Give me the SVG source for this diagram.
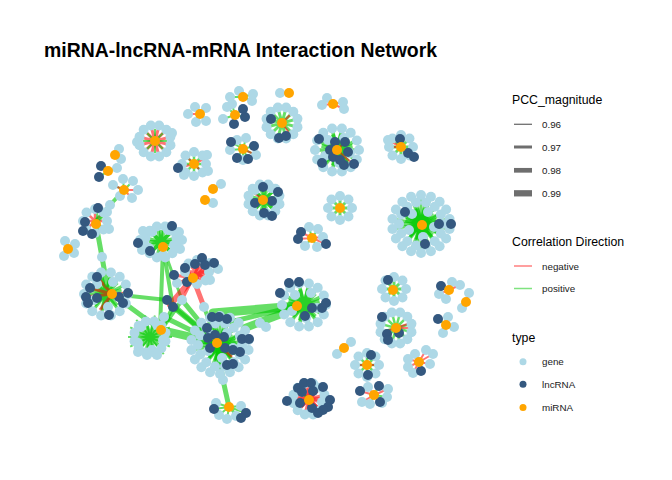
<svg xmlns="http://www.w3.org/2000/svg" width="672" height="480" viewBox="0 0 672 480">
<style>
.g{fill:#ADD8E6}.l{fill:#34587F}.m{fill:#FFA500}
.p{stroke:#00C800;stroke-opacity:.6;fill:none;stroke-width:2}
.n{stroke:#FF0000;stroke-opacity:.55;fill:none;stroke-width:2}
.t{font-family:"Liberation Sans",Arial,sans-serif;fill:#000}
.lt{font-size:12.3px}.lb{font-size:9.8px;fill:#1a1a1a}
</style>
<defs>
<g id="R1"><circle cx="12" cy="0" r="5"/><circle cx="8.49" cy="8.49" r="5"/><circle cx="0" cy="12" r="5"/><circle cx="-8.49" cy="8.49" r="5"/><circle cx="-12" cy="0" r="5"/><circle cx="-8.49" cy="-8.49" r="5"/><circle cx="0" cy="-12" r="5"/><circle cx="8.49" cy="-8.49" r="5"/></g>
<g id="R0"><circle cx="13" cy="3" r="5"/><circle cx="2" cy="13" r="5"/><circle cx="-12" cy="6" r="5"/><circle cx="-9" cy="-10" r="5"/><circle cx="7" cy="-12" r="5"/></g>
<g id="R2"><circle cx="15.45" cy="4.14" r="5"/><circle cx="11.31" cy="11.31" r="5"/><circle cx="4.14" cy="15.45" r="5"/><circle cx="-4.14" cy="15.45" r="5"/><circle cx="-11.31" cy="11.31" r="5"/><circle cx="-15.45" cy="4.14" r="5"/><circle cx="-15.45" cy="-4.14" r="5"/><circle cx="-11.31" cy="-11.31" r="5"/><circle cx="-4.14" cy="-15.45" r="5"/><circle cx="4.14" cy="-15.45" r="5"/><circle cx="11.31" cy="-11.31" r="5"/><circle cx="15.45" cy="-4.14" r="5"/></g>
<g id="R3"><circle cx="22" cy="0" r="5"/><circle cx="19.82" cy="9.55" r="5"/><circle cx="13.72" cy="17.2" r="5"/><circle cx="4.9" cy="21.45" r="5"/><circle cx="-4.9" cy="21.45" r="5"/><circle cx="-13.72" cy="17.2" r="5"/><circle cx="-19.82" cy="9.55" r="5"/><circle cx="-22" cy="0" r="5"/><circle cx="-19.82" cy="-9.55" r="5"/><circle cx="-13.72" cy="-17.2" r="5"/><circle cx="-4.9" cy="-21.45" r="5"/><circle cx="4.9" cy="-21.45" r="5"/><circle cx="13.72" cy="-17.2" r="5"/><circle cx="19.82" cy="-9.55" r="5"/></g>
<g id="R4"><circle cx="28.56" cy="5.03" r="5"/><circle cx="25.11" cy="14.5" r="5"/><circle cx="18.64" cy="22.21" r="5"/><circle cx="9.92" cy="27.25" r="5"/><circle cx="0" cy="29" r="5"/><circle cx="-9.92" cy="27.25" r="5"/><circle cx="-18.64" cy="22.21" r="5"/><circle cx="-25.11" cy="14.5" r="5"/><circle cx="-28.56" cy="5.03" r="5"/><circle cx="-28.56" cy="-5.03" r="5"/><circle cx="-25.11" cy="-14.5" r="5"/><circle cx="-18.64" cy="-22.21" r="5"/><circle cx="-9.92" cy="-27.25" r="5"/><circle cx="0" cy="-29" r="5"/><circle cx="9.92" cy="-27.25" r="5"/><circle cx="18.64" cy="-22.21" r="5"/><circle cx="25.11" cy="-14.5" r="5"/><circle cx="28.56" cy="-5.03" r="5"/></g>
<path id="E1" d="M0 0L12 0M0 0L8.49 8.49M0 0L0 12M0 0L-8.49 8.49M0 0L-12 0M0 0L-8.49 -8.49M0 0L0 -12M0 0L8.49 -8.49"/>
<path id="E2" d="M0 0L15.45 4.14M0 0L11.31 11.31M0 0L4.14 15.45M0 0L-4.14 15.45M0 0L-11.31 11.31M0 0L-15.45 4.14M0 0L-15.45 -4.14M0 0L-11.31 -11.31M0 0L-4.14 -15.45M0 0L4.14 -15.45M0 0L11.31 -11.31M0 0L15.45 -4.14"/>
<path id="E3" d="M0 0L22 0M0 0L19.82 9.55M0 0L13.72 17.2M0 0L4.9 21.45M0 0L-4.9 21.45M0 0L-13.72 17.2M0 0L-19.82 9.55M0 0L-22 0M0 0L-19.82 -9.55M0 0L-13.72 -17.2M0 0L-4.9 -21.45M0 0L4.9 -21.45M0 0L13.72 -17.2M0 0L19.82 -9.55"/>
<path id="E4" d="M0 0L28.56 5.03M0 0L25.11 14.5M0 0L18.64 22.21M0 0L9.92 27.25M0 0L0 29M0 0L-9.92 27.25M0 0L-18.64 22.21M0 0L-25.11 14.5M0 0L-28.56 5.03M0 0L-28.56 -5.03M0 0L-25.11 -14.5M0 0L-18.64 -22.21M0 0L-9.92 -27.25M0 0L0 -29M0 0L9.92 -27.25M0 0L18.64 -22.21M0 0L25.11 -14.5M0 0L28.56 -5.03"/>
</defs>
<rect width="672" height="480" fill="#fff"/>
<text class="t" x="44" y="56.5" font-size="19.5" font-weight="bold" textLength="393" lengthAdjust="spacingAndGlyphs">miRNA-lncRNA-mRNA Interaction Network</text>

<g id="connectors">
<path class="n" d="M289 93L280 93M333 104L327 98M333 104L343 102M333 104L344 109M333 104L322 105M200 114L188 114M200 114L206 121"/>
<path class="p" d="M243 97L230 97M243 97L239 91M243 97L253 94M243 97L252 101M200 114L195 107M200 114L206 108M200 114L196 122M235 115L227 107M235 115L223 119M235 115L232 104M235 115L243 109M235 115L245 117M235 115L234 124"/>
<use href="#E2" class="p" x="282" y="123" style="stroke-width:3"/>
<path class="n" d="M282 123L293 112M282 123L290 134"/>
<use href="#E2" class="n" x="155" y="141" style="stroke-width:3"/>
<use href="#E1" class="p" x="155" y="141"/>
<use href="#E2" class="p" x="337" y="150" style="stroke-width:4"/>
<use href="#E3" class="p" x="337" y="150" style="stroke-width:3.5"/>
<path class="n" d="M337 150L353 164M337 150L344 143"/>
<use href="#E1" class="p" x="401" y="147" style="stroke-width:3"/>
<path class="n" d="M401 147L388 140M401 147L388 147"/>
<use href="#E1" class="p" x="194" y="164" style="stroke-width:2.5"/>
<path class="n" d="M194 164L178 168M194 164L206 158M194 164L185 155M194 164L203 173"/>
<path class="p" d="M243 149L237 140M243 149L246 138M243 149L256 155M243 149L230 150M243 149L243 160M243 149L231 142M243 149L254 146M243 149L237 158M243 149L248 159"/>
<path class="n" d="M243 149L256 155"/>
<path class="p" d="M124 190L113 185M124 190L123 179M124 190L133 181M124 190L120 196"/>
<path class="n" d="M124 190L138 190M124 190L132 198M124 190L113 185"/>
<path class="p" d="M108 171L101 166M108 171L99 177M108 171L117 168M115 155L119 149M115 155L121 159M213 189L221 184M205 200L213 203"/>
<use href="#E1" class="p" x="264" y="200" style="stroke-width:3.5"/>
<use href="#E2" class="p" x="264" y="200" style="stroke-width:3"/>
<path class="n" d="M264 200L252 192M264 200L248 204"/>
<use href="#E1" class="p" x="340" y="208" style="stroke-width:3"/>
<use href="#E1" class="n" x="95" y="221" style="stroke-width:2.5"/>
<path class="p" d="M96 224L107 212M96 224L109 229M96 224L98 208"/>
<use href="#E2" class="p" x="421" y="224" style="stroke-width:4.5"/>
<use href="#E3" class="p" x="421" y="224" style="stroke-width:4"/>
<use href="#E4" class="p" x="421" y="224" style="stroke-width:3"/>
<path class="n" d="M312 238L301 232M312 238L298 239M312 238L326 244M312 238L323 237"/>
<path class="p" d="M312 238L309 227M312 238L318 229M312 238L317 247M312 238L305 246"/>
<path class="n" d="M68 249L65 241M68 249L75 244M68 249L64 256M68 249L74 253"/>
<use href="#E1" class="p" x="161" y="242" style="stroke-width:4"/>
<use href="#E2" class="p" x="161" y="242" style="stroke-width:3.5"/>
<use href="#E1" class="n" x="197" y="272" style="stroke-width:3.5"/>
<path class="n" style="stroke-width:3" d="M193 278L202 258M193 278L185 268M193 278L214 263M193 278L174 275M193 278L218 269M193 278L210 280M193 278L177 283M193 278L210 263"/>
<use href="#E2" class="p" x="106" y="294" style="stroke-width:3.5"/>
<use href="#E3" class="p" x="106" y="294" style="stroke-width:3"/>
<path class="n" style="stroke-width:3" d="M112 294L97 277M112 294L90 288M112 294L86 297M112 294L128 293M112 294L123 303M112 294L100 310"/>
<use href="#E2" class="p" x="304" y="305" style="stroke-width:4"/>
<use href="#E3" class="p" x="304" y="305" style="stroke-width:3.5"/>
<use href="#E2" class="p" x="150" y="337" style="stroke-width:4"/>
<use href="#E3" class="p" x="150" y="337" style="stroke-width:2"/>
<use href="#E2" class="p" x="220" y="345" style="stroke-width:4.5"/>
<use href="#E3" class="p" x="220" y="345" style="stroke-width:4"/>
<use href="#E4" class="p" x="220" y="345" style="stroke-width:3"/>
<path class="n" style="stroke-width:2.5" d="M217 343L207 328M217 343L233 350M217 343L210 348M217 343L232 357"/>
<path class="p" d="M229 407L216 403M229 407L219 415M229 407L227 419M229 407L236 416M229 407L241 406M229 407L214 409M229 407L246 413M229 407L241 418"/>
<use href="#E1" class="n" x="309" y="399" style="stroke-width:3.5"/>
<use href="#E2" class="n" x="309" y="399" style="stroke-width:3"/>
<path class="p" d="M309 400L287 401M309 400L318 413M309 400L302 392"/>
<use href="#E1" class="p" x="394" y="289" style="stroke-width:3"/>
<path class="n" d="M449 290L452 282M449 290L460 285M449 290L439 294M449 290L446 299M449 290L441 286M466 302L469 293M466 302L462 308"/>
<path class="p" d="M466 302L462 308"/>
<use href="#E2" class="p" x="396" y="328" style="stroke-width:2.5"/>
<path class="n" d="M396 328L412 328M396 328L380 333M396 328L413 322"/>
<path class="p" d="M446 325L448 317M446 325L454 327M446 325L443 333M446 325L438 319M344 348L351 342M344 348L337 354"/>
<use href="#E1" class="p" x="367" y="365" style="stroke-width:2.5"/>
<path class="n" d="M367 365L379 365M367 365L355 365"/>
<path class="n" d="M419 362L408 359M419 362L415 354M419 362L426 350M419 362L433 354M419 362L430 364M419 362L413 373M419 362L408 367M419 362L421 371"/>
<path class="n" d="M374 395L368 387M374 395L388 389M374 395L360 391M374 395L362 402M374 395L380 402"/>
<path class="p" d="M374 395L387 397M374 395L382 403M374 395L370 404M374 395L379 386"/>
<g style="stroke:#00C800;stroke-opacity:.6;fill:none;stroke-linecap:round">
<path stroke-width="4" d="M124 190L110 205L96 221"/>
<path stroke-width="5" d="M96 224L102 257L107 285"/>
<path stroke-width="4" d="M112 294L167 300"/>
<path stroke-width="5" d="M112 294L161 330"/>
<path stroke-width="4" d="M163 247L160 330"/>
<path stroke-width="4" d="M163 247L173 307"/>
<path stroke-width="3" d="M163 247L182 300"/>
<path stroke-width="5" d="M167 300L217 343"/>
<path stroke-width="5" d="M173 307L217 343"/>
<path stroke-width="5" d="M182 300L217 343"/>
<path stroke-width="4" d="M161 330L182 300"/>
<path stroke-width="4" d="M161 330L173 307"/>
<path stroke-width="8" d="M161 330L217 343"/>
<path stroke-width="5" d="M164 317L217 343"/>
<path stroke-width="9" d="M213 313L297 306"/>
<path stroke-width="8" d="M245 328L297 308"/>
<path stroke-width="5" d="M230 322L297 306"/>
<path stroke-width="5" d="M217 343L223 380L229 407"/>
<path stroke-width="4" d="M204 307L217 343"/>
</g>
<g style="stroke:#FF0000;stroke-opacity:.55;fill:none;stroke-linecap:round">
<path stroke-width="6" d="M193 278L170 305"/>
<path stroke-width="5" d="M193 278L204 307"/>
<path stroke-width="3" d="M193 278L182 300"/>
</g>
</g>

<g id="nodes">
<g id="c01"><circle class="g" cx="280" cy="93" r="5"/><circle class="m" cx="289" cy="93" r="5"/></g>
<g id="c02"><circle class="g" cx="230" cy="97" r="5"/><circle class="g" cx="239" cy="91" r="5"/><circle class="g" cx="253" cy="94" r="5"/><circle class="g" cx="252" cy="101" r="5"/><circle class="m" cx="243" cy="97" r="5"/></g>
<g id="c03"><circle class="g" cx="327" cy="98" r="5"/><circle class="g" cx="343" cy="102" r="5"/><circle class="g" cx="344" cy="109" r="5"/><circle class="g" cx="322" cy="105" r="5"/><circle class="m" cx="333" cy="104" r="5"/></g>
<g id="c04"><circle class="g" cx="188" cy="114" r="5"/><circle class="g" cx="195" cy="107" r="5"/><circle class="g" cx="206" cy="108" r="5"/><circle class="g" cx="206" cy="121" r="5"/><circle class="g" cx="196" cy="122" r="5"/><circle class="m" cx="200" cy="114" r="5"/></g>
<g id="c05"><circle class="g" cx="227" cy="107" r="5"/><circle class="g" cx="223" cy="119" r="5"/><circle class="g" cx="232" cy="104" r="5"/><circle class="l" cx="243" cy="109" r="5"/><circle class="l" cx="245" cy="117" r="5"/><circle class="l" cx="234" cy="124" r="5"/><circle class="m" cx="235" cy="115" r="5"/></g>
<g id="c06"><use href="#R2" class="g" x="282" y="123"/><circle class="l" cx="271" cy="119" r="5"/><circle class="l" cx="279" cy="138" r="5"/><circle class="l" cx="286" cy="136" r="5"/><circle class="m" cx="282" cy="123" r="5"/></g>
<g id="c07"><use href="#R2" class="g" x="155" y="141"/><circle class="g" cx="137" cy="142" r="5"/><circle class="g" cx="172" cy="133" r="5"/><circle class="m" cx="155" cy="141" r="5"/></g>
<g id="c08"><use href="#R3" class="g" x="337" y="150"/><use href="#R0" class="g" x="337" y="150"/><circle class="l" cx="319" cy="139" r="5"/><circle class="l" cx="322" cy="163" r="5"/><circle class="l" cx="335" cy="142" r="5"/><circle class="l" cx="345" cy="142" r="5"/><circle class="l" cx="330" cy="150" r="5"/><circle class="l" cx="348" cy="152" r="5"/><circle class="l" cx="344" cy="165" r="5"/><circle class="l" cx="354" cy="164" r="5"/><circle class="l" cx="333" cy="157" r="5"/><circle class="l" cx="340" cy="160" r="5"/><circle class="m" cx="337" cy="150" r="5"/></g>
<g id="c09"><use href="#R1" class="g" x="401" y="147"/><circle class="g" cx="388" cy="140" r="5"/><circle class="l" cx="400" cy="139" r="5"/><circle class="l" cx="408" cy="153" r="5"/><circle class="l" cx="414" cy="157" r="5"/><circle class="m" cx="401" cy="147" r="5"/></g>
<g id="c10"><use href="#R1" class="g" x="194" y="164"/><circle class="g" cx="207" cy="155" r="5"/><circle class="g" cx="208" cy="171" r="5"/><circle class="g" cx="184" cy="175" r="5"/><circle class="l" cx="178" cy="168" r="5"/><circle class="m" cx="194" cy="164" r="5"/></g>
<g id="c11"><circle class="g" cx="237" cy="140" r="5"/><circle class="g" cx="246" cy="138" r="5"/><circle class="g" cx="256" cy="155" r="5"/><circle class="g" cx="230" cy="150" r="5"/><circle class="g" cx="243" cy="160" r="5"/><circle class="l" cx="231" cy="142" r="5"/><circle class="l" cx="254" cy="146" r="5"/><circle class="l" cx="237" cy="158" r="5"/><circle class="l" cx="248" cy="159" r="5"/><circle class="m" cx="243" cy="149" r="5"/></g>
<g id="c12"><circle class="g" cx="119" cy="149" r="5"/><circle class="g" cx="121" cy="159" r="5"/><circle class="m" cx="115" cy="155" r="5"/></g>
<g id="c13"><circle class="l" cx="101" cy="166" r="5"/><circle class="l" cx="99" cy="177" r="5"/><circle class="g" cx="117" cy="168" r="5"/><circle class="m" cx="108" cy="171" r="5"/></g>
<g id="c14"><circle class="g" cx="221" cy="184" r="5"/><circle class="m" cx="213" cy="189" r="5"/><circle class="g" cx="213" cy="203" r="5"/><circle class="m" cx="205" cy="200" r="5"/></g>
<g id="c15"><circle class="g" cx="113" cy="185" r="5"/><circle class="g" cx="123" cy="179" r="5"/><circle class="g" cx="133" cy="181" r="5"/><circle class="g" cx="138" cy="190" r="5"/><circle class="g" cx="132" cy="198" r="5"/><circle class="g" cx="120" cy="196" r="5"/><circle class="m" cx="124" cy="190" r="5"/></g>
<g id="c16"><use href="#R2" class="g" x="264" y="200"/><use href="#R0" class="g" x="264" y="200"/><circle class="l" cx="263" cy="187" r="5"/><circle class="l" cx="278" cy="192" r="5"/><circle class="l" cx="255" cy="203" r="5"/><circle class="l" cx="272" cy="201" r="5"/><circle class="l" cx="264" cy="213" r="5"/><circle class="l" cx="272" cy="216" r="5"/><circle class="m" cx="263" cy="200" r="5"/></g>
<g id="c17"><use href="#R1" class="g" x="340" y="208"/><circle class="m" cx="340" cy="208" r="5"/></g>
<g id="c18"><use href="#R1" class="g" x="95" y="221"/><circle class="g" cx="107" cy="212" r="5"/><circle class="g" cx="109" cy="229" r="5"/><circle class="l" cx="98" cy="208" r="5"/><circle class="l" cx="85" cy="222" r="5"/><circle class="l" cx="83" cy="231" r="5"/><circle class="l" cx="92" cy="234" r="5"/><circle class="m" cx="96" cy="224" r="5"/></g>
<g id="c19"><use href="#R4" class="g" x="421" y="224"/><use href="#R3" class="g" x="421" y="224"/><use href="#R0" class="g" x="421" y="224"/><circle class="l" cx="405" cy="212" r="5"/><circle class="l" cx="439" cy="224" r="5"/><circle class="l" cx="451" cy="224" r="5"/><circle class="l" cx="425" cy="244" r="5"/><circle class="m" cx="422" cy="225" r="5"/></g>
<g id="c20"><circle class="g" cx="309" cy="227" r="5"/><circle class="g" cx="318" cy="229" r="5"/><circle class="g" cx="323" cy="237" r="5"/><circle class="g" cx="317" cy="247" r="5"/><circle class="g" cx="305" cy="246" r="5"/><circle class="l" cx="301" cy="232" r="5"/><circle class="l" cx="298" cy="239" r="5"/><circle class="l" cx="326" cy="244" r="5"/><circle class="m" cx="312" cy="238" r="5"/></g>
<g id="c21"><circle class="g" cx="65" cy="241" r="5"/><circle class="g" cx="75" cy="244" r="5"/><circle class="g" cx="64" cy="256" r="5"/><circle class="g" cx="74" cy="253" r="5"/><circle class="m" cx="68" cy="249" r="5"/></g>
<g id="c22"><use href="#R2" class="g" x="161" y="242"/><use href="#R0" class="g" x="161" y="242"/><circle class="g" cx="140" cy="240" r="5"/><circle class="g" cx="182" cy="240" r="5"/><circle class="g" cx="142" cy="250" r="5"/><circle class="g" cx="180" cy="249" r="5"/><circle class="g" cx="143" cy="231" r="5"/><circle class="g" cx="179" cy="232" r="5"/><circle class="l" cx="172" cy="226" r="5"/><circle class="l" cx="138" cy="243" r="5"/><circle class="l" cx="150" cy="251" r="5"/><circle class="m" cx="163" cy="247" r="5"/></g>
<g id="c23"><use href="#R1" class="g" x="197" y="272"/><circle class="g" cx="210" cy="280" r="5"/><circle class="g" cx="218" cy="269" r="5"/><circle class="g" cx="210" cy="263" r="5"/><circle class="g" cx="177" cy="283" r="5"/><circle class="l" cx="202" cy="258" r="5"/><circle class="l" cx="195" cy="264" r="5"/><circle class="l" cx="185" cy="268" r="5"/><circle class="l" cx="214" cy="263" r="5"/><circle class="l" cx="174" cy="275" r="5"/><circle class="l" cx="187" cy="282" r="5"/><circle class="l" cx="205" cy="265" r="5"/><circle class="m" cx="193" cy="278" r="5"/></g>
<g id="c24"><use href="#R3" class="g" x="106" y="294"/><use href="#R0" class="g" x="106" y="294"/><circle class="l" cx="97" cy="277" r="5"/><circle class="l" cx="90" cy="288" r="5"/><circle class="l" cx="86" cy="297" r="5"/><circle class="l" cx="88" cy="303" r="5"/><circle class="l" cx="97" cy="298" r="5"/><circle class="l" cx="119" cy="297" r="5"/><circle class="l" cx="123" cy="303" r="5"/><circle class="l" cx="128" cy="293" r="5"/><circle class="l" cx="109" cy="315" r="5"/><circle class="m" cx="112" cy="294" r="5"/></g>
<g id="c25"><use href="#R3" class="g" x="304" y="305"/><use href="#R0" class="g" x="304" y="305"/><circle class="l" cx="289" cy="283" r="5"/><circle class="l" cx="299" cy="282" r="5"/><circle class="l" cx="280" cy="293" r="5"/><circle class="l" cx="312" cy="308" r="5"/><circle class="l" cx="305" cy="316" r="5"/><circle class="l" cx="322" cy="308" r="5"/><circle class="l" cx="326" cy="303" r="5"/><circle class="m" cx="297" cy="306" r="5"/></g>
<g id="c26"><use href="#R2" class="g" x="150" y="337"/><use href="#R0" class="g" x="150" y="337"/><circle class="g" cx="147" cy="355" r="5"/><circle class="g" cx="157" cy="355" r="5"/><circle class="g" cx="138" cy="352" r="5"/><circle class="m" cx="161" cy="330" r="5"/></g>
<g id="c27"><use href="#R4" class="g" x="220" y="345"/><use href="#R3" class="g" x="220" y="345"/><use href="#R0" class="g" x="220" y="345"/><circle class="l" cx="212" cy="317" r="5"/><circle class="l" cx="219" cy="317" r="5"/><circle class="l" cx="227" cy="319" r="5"/><circle class="l" cx="207" cy="328" r="5"/><circle class="l" cx="215" cy="335" r="5"/><circle class="l" cx="224" cy="337" r="5"/><circle class="l" cx="208" cy="338" r="5"/><circle class="l" cx="210" cy="348" r="5"/><circle class="l" cx="225" cy="348" r="5"/><circle class="l" cx="233" cy="350" r="5"/><circle class="l" cx="240" cy="352" r="5"/><circle class="l" cx="242" cy="339" r="5"/><circle class="l" cx="249" cy="339" r="5"/><circle class="l" cx="227" cy="365" r="5"/><circle class="l" cx="233" cy="364" r="5"/><circle class="m" cx="217" cy="343" r="5"/></g>
<g id="c28"><circle class="g" cx="216" cy="403" r="5"/><circle class="g" cx="219" cy="415" r="5"/><circle class="g" cx="227" cy="419" r="5"/><circle class="g" cx="236" cy="416" r="5"/><circle class="g" cx="241" cy="406" r="5"/><circle class="l" cx="214" cy="409" r="5"/><circle class="l" cx="246" cy="413" r="5"/><circle class="l" cx="241" cy="418" r="5"/><circle class="m" cx="229" cy="407" r="5"/></g>
<g id="c29"><use href="#R2" class="g" x="309" y="399"/><use href="#R0" class="g" x="309" y="399"/><circle class="l" cx="287" cy="401" r="5"/><circle class="l" cx="298" cy="388" r="5"/><circle class="l" cx="304" cy="383" r="5"/><circle class="l" cx="311" cy="383" r="5"/><circle class="l" cx="323" cy="387" r="5"/><circle class="l" cx="330" cy="400" r="5"/><circle class="l" cx="328" cy="407" r="5"/><circle class="l" cx="312" cy="408" r="5"/><circle class="l" cx="323" cy="410" r="5"/><circle class="l" cx="318" cy="413" r="5"/><circle class="l" cx="302" cy="392" r="5"/><circle class="l" cx="313" cy="391" r="5"/><circle class="l" cx="300" cy="403" r="5"/><circle class="m" cx="309" cy="400" r="5"/></g>
<g id="c30"><use href="#R1" class="g" x="394" y="289"/><circle class="l" cx="388" cy="280" r="5"/><circle class="m" cx="393" cy="290" r="5"/></g>
<g id="c31"><circle class="g" cx="452" cy="282" r="5"/><circle class="g" cx="460" cy="285" r="5"/><circle class="g" cx="439" cy="294" r="5"/><circle class="g" cx="446" cy="299" r="5"/><circle class="l" cx="441" cy="286" r="5"/><circle class="m" cx="449" cy="290" r="5"/></g>
<g id="c32"><circle class="g" cx="469" cy="293" r="5"/><circle class="g" cx="462" cy="308" r="5"/><circle class="m" cx="466" cy="302" r="5"/></g>
<g id="c33"><use href="#R2" class="g" x="396" y="328"/><circle class="l" cx="382" cy="317" r="5"/><circle class="l" cx="387" cy="334" r="5"/><circle class="l" cx="388" cy="340" r="5"/><circle class="l" cx="399" cy="333" r="5"/><circle class="m" cx="396" cy="328" r="5"/></g>
<g id="c34"><circle class="g" cx="448" cy="317" r="5"/><circle class="g" cx="454" cy="327" r="5"/><circle class="g" cx="443" cy="333" r="5"/><circle class="l" cx="438" cy="319" r="5"/><circle class="m" cx="446" cy="325" r="5"/></g>
<g id="c35"><circle class="g" cx="351" cy="342" r="5"/><circle class="g" cx="337" cy="354" r="5"/><circle class="m" cx="344" cy="348" r="5"/></g>
<g id="c36"><use href="#R1" class="g" x="367" y="365"/><circle class="l" cx="371" cy="355" r="5"/><circle class="l" cx="368" cy="375" r="5"/><circle class="m" cx="367" cy="365" r="5"/></g>
<g id="c37"><circle class="g" cx="408" cy="359" r="5"/><circle class="g" cx="415" cy="354" r="5"/><circle class="g" cx="426" cy="350" r="5"/><circle class="g" cx="433" cy="354" r="5"/><circle class="g" cx="430" cy="364" r="5"/><circle class="g" cx="413" cy="373" r="5"/><circle class="g" cx="408" cy="367" r="5"/><circle class="l" cx="421" cy="371" r="5"/><circle class="m" cx="419" cy="362" r="5"/></g>
<g id="c38"><circle class="g" cx="368" cy="387" r="5"/><circle class="g" cx="388" cy="389" r="5"/><circle class="g" cx="387" cy="397" r="5"/><circle class="g" cx="382" cy="403" r="5"/><circle class="g" cx="370" cy="404" r="5"/><circle class="g" cx="362" cy="402" r="5"/><circle class="l" cx="360" cy="391" r="5"/><circle class="l" cx="379" cy="386" r="5"/><circle class="l" cx="380" cy="402" r="5"/><circle class="m" cx="374" cy="395" r="5"/></g>
<g id="junctions"><circle class="g" cx="110" cy="205" r="5"/><circle class="g" cx="102" cy="257" r="5"/><circle class="g" cx="182" cy="300" r="5"/><circle class="g" cx="204" cy="307" r="5"/><circle class="g" cx="223" cy="380" r="5"/><circle class="g" cx="164" cy="317" r="5"/><circle class="g" cx="260" cy="323" r="5"/><circle class="g" cx="266" cy="327" r="5"/><circle class="l" cx="167" cy="300" r="5"/><circle class="l" cx="173" cy="307" r="5"/></g>
</g>

<g id="legend">
<text class="t lt" x="512" y="104">PCC_magnitude</text>
<g stroke="#555" stroke-opacity=".85"><path d="M514 124.3H532" stroke-width="1.3"/><path d="M514 147H532" stroke-width="3"/><path d="M514 170.3H532" stroke-width="4.7"/><path d="M514 193.3H532" stroke-width="6.3"/></g>
<text class="t lb" x="542" y="127.8">0.96</text><text class="t lb" x="542" y="150.5">0.97</text><text class="t lb" x="542" y="173.8">0.98</text><text class="t lb" x="542" y="196.8">0.99</text>
<text class="t lt" x="512" y="245.5">Correlation Direction</text>
<path d="M514 266H532" stroke="#FF0000" stroke-opacity=".5" stroke-width="1.5"/>
<path d="M514 288.5H532" stroke="#00C800" stroke-opacity=".5" stroke-width="1.5"/>
<text class="t lb" x="542" y="269.5">negative</text><text class="t lb" x="542" y="292">positive</text>
<text class="t lt" x="512" y="341.5">type</text>
<circle class="g" cx="523" cy="361.7" r="3.5"/><circle class="l" cx="523" cy="384.3" r="3.5"/><circle class="m" cx="523" cy="407.5" r="3.5"/>
<text class="t lb" x="542" y="365.2">gene</text><text class="t lb" x="542" y="387.8">lncRNA</text><text class="t lb" x="542" y="411">miRNA</text>
</g>
</svg>
